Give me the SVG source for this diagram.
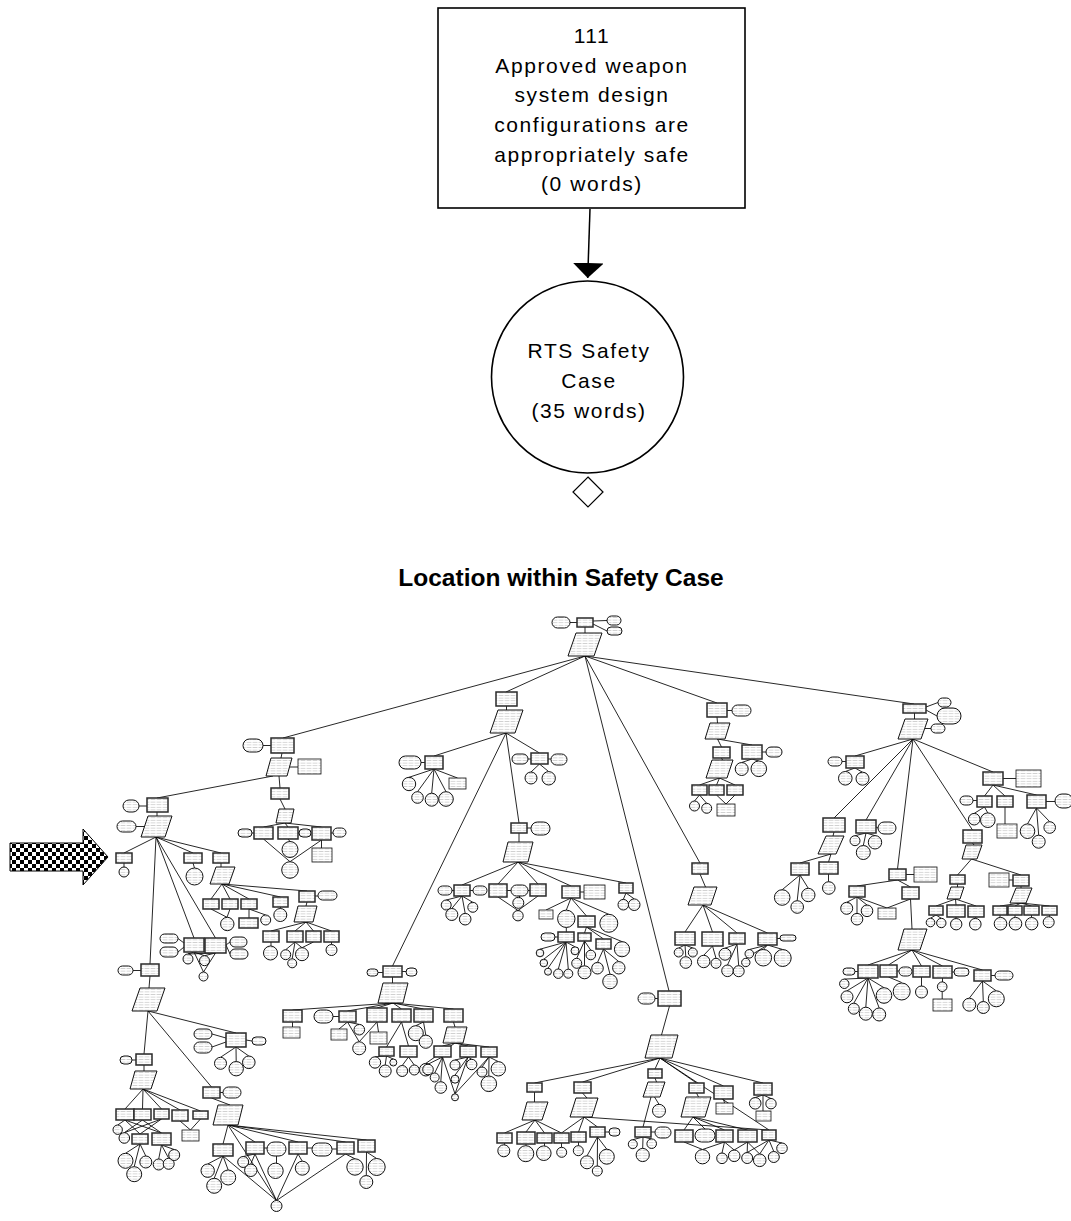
<svg xmlns="http://www.w3.org/2000/svg" width="1071" height="1221" viewBox="0 0 1071 1221">
<defs>
<style>
.t{font-family:"Liberation Sans",Arial,sans-serif;font-size:21px;letter-spacing:1.6px;text-anchor:middle;fill:#000}
.h{font-family:"Liberation Sans",Arial,sans-serif;font-size:24.5px;font-weight:bold;text-anchor:middle;fill:#000}
.main{fill:#fff;stroke:#000;stroke-width:1.6}
.g,.c,.e,.s,.b{fill:url(#tx);stroke:#111;stroke-width:1}
.g{stroke:#2a2a2a;stroke-width:1.5}
.b{stroke-width:0.8}
.l{fill:none;stroke:#000;stroke-width:0.85}
</style>
<pattern id="tx" width="6" height="2.6" patternUnits="userSpaceOnUse"><rect width="6" height="2.6" fill="#fff"/><rect x="0.6" y="1" width="4.8" height="0.7" fill="#c6c6c6"/></pattern>
<pattern id="chk" width="8" height="8" patternUnits="userSpaceOnUse"><rect width="8" height="8" fill="#fff"/><rect width="4" height="4" fill="#000"/><rect x="4" y="4" width="4" height="4" fill="#000"/></pattern>
<marker id="ah" viewBox="0 0 15 31" markerWidth="15" markerHeight="31" refX="15" refY="15.5" orient="auto" markerUnits="userSpaceOnUse"><path d="M0,0 L15,15.5 L0,31 Z" fill="#000"/></marker>
</defs>
<rect width="1071" height="1221" fill="#fff"/>

<!-- focus goal and its parent -->
<g id="edges">
<path class="l" style="stroke-width:1.5" d="M590,209 L587.7,278" marker-end="url(#ah)"/>
</g>
<g id="goal-111">
<rect class="main" x="438" y="8" width="307" height="200"/>
<text class="t" x="592" y="43">111</text>
<text class="t" x="592" y="73">Approved weapon</text>
<text class="t" x="592" y="102">system design</text>
<text class="t" x="592" y="132">configurations are</text>
<text class="t" x="592" y="162">appropriately safe</text>
<text class="t" x="592" y="191">(0 words)</text>
</g>
<g id="rts-safety-case">
<circle class="main" cx="587.5" cy="377" r="96"/>
<text class="t" x="589" y="358">RTS Safety</text>
<text class="t" x="589" y="388">Case</text>
<text class="t" x="589" y="418">(35 words)</text>
</g>
<g id="undeveloped">
<polygon class="main" style="stroke-width:1.2" points="588,477 603,492 588,507 573,492"/>
</g>

<text class="h" x="561" y="586">Location within Safety Case</text>

<!-- position pointer -->
<polygon points="10,843 83,843 83,829 108,857 83,885 83,871 10,871" fill="url(#chk)" stroke="#000" stroke-width="1"/>

<!-- overview of the whole argument tree -->
<g id="overview-links" class="l">
<path d="M585,656 L283,738 M585,656 L506,692 M585,656 L669,991 M585,656 L700,863 M585,656 L717,703 M585,656 L914,704 M570,622.5 H577 M593,621 L607,620.5 M593,624 L607,631 M585,627 V633"/>
<path d="M263,745.5 H271 M282,753 L281,758 M289,767 H298 M279,776 L280,788 M273,776 L157,798 M139,806 H147 M157,812 L157,816 M136,826.5 H144 M280,799 L285,809 M285,823 L263.5,827 M285,823 L288,827 M285,823 L321.5,827 M252,833 H254 M298,833 H299 M331,833 H333 M263.5,839 L290,861.7 M288,839 L290,841.5 M321.5,840 L290,861.7 M321.5,840 V848"/>
<path d="M156,837 L124,853 M156,837 L193,853 M156,837 L221,853 M156,837 L150,964 M156,837 L194,938 M156,837 L215.5,938 M124,863 V867 M193,863 L194.5,868 M221,863 V867 M222,884 L211,899 M222,884 L230,899 M222,884 L249,899 M222,884 L280.5,897 M222,884 L307,891 M315,896 H318 M211,909 L227,917.3 M230,909 L227,917.3 M249,909 V918 M249,909 L265.7,915 M280.5,907 V908.5 M307,902 L306,906 M306,922 L271,931 M306,922 L295,931 M306,922 L313.5,931 M306,922 L331.5,931 M271,942 V946 M295,942 L285.7,949.7 M295,942 L302,947.7 M295,942 L292.2,958.8 M313.5,942 L302,947.7 M331.5,942 V944.5"/>
<path d="M133,970.5 H141 M150,976 L149,988 M178,938.5 L184,943 M178,952 L184,947 M226,945 L230,942 M226,945 L230,954 M194,952 L188,954 M194,952 L204.5,955.7 M215.5,953 L188,954 M215.5,953 L204.5,955.7 M194,952 L203.5,972 M215.5,953 L203.5,972 M148,1011 L144,1054 M148,1011 L211.5,1087 M148,1011 L236,1033"/>
<path d="M132,1060 H136 M144,1065 V1071 M143,1089 L125,1109 M143,1089 L142.5,1109 M143,1089 L161.5,1109 M143,1089 L180,1110 M143,1089 L200.5,1111 M125,1120 L117.7,1125 M125,1120 L140,1134 M125,1120 L161.5,1133 M142.5,1120 L124.3,1132.7 M142.5,1120 L161.5,1133 M161.5,1119 L124.3,1132.7 M161.5,1119 L140,1134 M180,1121 L190.5,1130 M200.5,1119 L190.5,1130 M140,1144 L125.5,1153.3 M140,1144 L134.2,1166.7 M140,1144 L145.8,1156 M161.5,1145 L158.7,1159 M161.5,1145 L168.7,1158.3 M161.5,1145 L174.2,1149.5"/>
<path d="M220,1092.5 H223 M211.5,1098 L230,1105 M228,1125 L223,1144 M228,1125 L255,1142 M228,1125 L298,1142 M228,1125 L345.5,1142 M228,1125 L366.5,1140 M228,1125 L276.5,1200.5 M264,1148 H267 M307,1148 H312 M332,1149 H337 M223,1156 L207.7,1164 M223,1156 L214.2,1178.3 M223,1156 L228.2,1170 M223,1156 L276.5,1200.5 M255,1154 L243.2,1156.5 M255,1154 L250.8,1164 M255,1154 L276.5,1200.5 M276.5,1156 V1163 M298,1154 L302.3,1161.2 M298,1154 L276.5,1200.5 M345.5,1154 L355,1158.8 M345.5,1154 L276.5,1200.5 M366.5,1152 L376.7,1158.5 M366.5,1152 L366.3,1175.5 M212,1034 L226,1038 M212,1047 L226,1042 M246,1040 L252,1041 M236,1047 L220.5,1057.3 M236,1047 L236.2,1061.5 M236,1047 L248.8,1056"/>
<path d="M506.5,706 V710 M506,733 L434,756 M506,733 L539.5,753 M506,733 L392.5,966 M506,733 L519,823 M421,762.5 H425 M434,769 L409,777.3 M434,769 L417.5,791.7 M434,769 L431.7,793.2 M434,769 L446,791.7 M434,769 L457.5,778 M528,759 H531 M548,759 H551 M539.5,764 L531,772 M539.5,764 L548.7,771.6"/>
<path d="M378,972.5 H383 M402,971.5 H406 M392.5,977 V983 M393,1003 L292.5,1010 M393,1003 L347.5,1011 M393,1003 L377,1008 M393,1003 L401.5,1009 M393,1003 L423.5,1009 M393,1003 L453.5,1009 M333,1016.5 H339 M292.5,1022 V1027 M347.5,1022 L339,1029 M347.5,1022 L359.3,1024.4 M347.5,1022 L359.2,1041.8 M377,1022 L359.2,1041.8 M377,1022 L378.5,1032 M401.5,1022 L386.5,1047 M401.5,1022 L408.5,1046 M386.5,1056 L375,1056.8 M386.5,1056 L385.2,1065 M386.5,1056 L393.3,1059 M408.5,1057 L402.2,1065.5 M408.5,1057 L414.3,1065 M423.5,1022 L415.8,1025.7 M423.5,1022 L425.8,1035.1 M453.5,1022 L455,1027 M455,1043 L442.5,1046 M455,1043 L468,1046 M455,1043 L489,1047 M455,1043 L425.8,1063.4 M442.5,1057 L428,1064.2 M442.5,1057 L434.7,1073 M442.5,1057 L440.8,1081.7 M442.5,1057 L455,1093.8 M468,1057 L455,1060 M468,1057 L455,1075.2 M468,1057 L455,1093.8 M468,1057 L471.7,1059.3 M489,1057 L482,1067 M489,1057 L488.8,1076 M489,1057 L498.3,1061.6 M489,1057 L455,1093.8"/>
<path d="M527,828 H531 M519,833 V842 M518,862 L462,885 M518,862 L498,884 M518,862 L538,884 M518,862 L571,886 M518,862 L626,883 M452,890.5 H454 M470,890.5 H473 M462,896 L446.2,900 M462,896 L451.8,908.5 M462,896 L465.2,913.4 M462,896 L472.8,902.3 M507,890.5 H511 M528,890.5 H530 M519.5,896 V897.3 M498,897 L518,910.5 M538,896 L518,910.5 M580,892 H584 M571,898 L546,910 M571,898 L566.3,910.1 M571,898 L586.5,916 M571,898 L608.8,914.3 M626,893 L623.3,899.4 M626,893 L634.2,898.9 M566.3,927.5 V932 M555,937 H558 M586.5,927 L584.5,933 M586.5,927 L603.5,939 M586.5,927 L622,941.6 M566,942 L540,949.2 M566,942 L543.8,959.2 M566,942 L548,968.2 M566,942 L558.3,969 M566,942 L568.3,969.2 M566,942 L575,946.8 M584.5,941 L576.7,958.3 M584.5,941 L584.5,965.8 M584.5,941 L590.8,950.2 M603.5,949 L597.5,962.4 M603.5,949 L610,974.2 M603.5,949 L618.8,961.6"/>
<path d="M655,998.5 H658 M669.5,1006 L661.5,1035 M660,1058 L534.5,1083 M660,1058 L582.5,1082 M660,1058 L655,1069 M660,1058 L696.5,1083 M660,1058 L723.5,1086 M660,1058 L763,1083 M660,1058 L769,1130 M534.5,1092 L534.5,1102 M535,1120 L504.5,1133 M535,1120 L526,1132 M535,1120 L544.5,1133 M535,1120 L561.5,1133 M504.5,1143 V1144.8 M526,1144 V1145.7 M544.5,1143 V1145.9 M561.5,1143 V1147.3 M582.5,1093 L587,1098 M584,1117 L561.5,1133 M584,1117 L578.5,1132 M584,1117 L597.5,1127 M584,1117 L769,1130 M578.5,1142 V1145.7 M605,1132 H609 M597.5,1137 L587,1155.8 M597.5,1137 L597.3,1166 M597.5,1137 L606.8,1149.2 M655,1078 L656.5,1082 M654.5,1097 L659,1104.3 M651,1097 L643,1127 M651,1132 H655 M643,1137 L632.8,1139.7 M643,1137 L642.7,1148.4 M643,1137 L651.7,1138.9 M696.5,1093 L698.5,1097 M693,1117 L684,1130 M693,1117 L705,1129 M693,1117 L724.5,1130 M693,1117 L747.5,1130 M684,1142 L702.5,1149.5 M724.5,1142 L702.5,1149.5 M724.5,1142 L722,1153 M724.5,1142 L734.2,1150 M747.5,1142 L734.2,1150 M747.5,1142 L747.2,1152.5 M723.5,1099 L724.5,1103 M763,1095 L755.2,1097.5 M763,1095 L771,1098.5 M763,1095 V1111 M769,1140 L747.2,1152.5 M769,1140 L759.7,1154 M769,1140 L773.8,1151.5 M769,1140 L782,1143 M747.5,1142 L759.7,1154"/>
<path d="M700,874 L705.5,887 M703,905 L685,932 M703,905 L712.5,932 M703,905 L737,933 M703,905 L767.5,933 M685,945 L678.7,948 M685,945 L685.8,956.7 M685,945 L692.8,948 M712.5,946 L703.7,955.3 M712.5,946 L716,958.3 M737,944 L725,948.2 M737,944 L727.5,965 M737,944 L738.7,965.7 M777,938.5 H780 M767.5,945 L763.3,949.4 M767.5,945 L782.7,949.5 M767.5,945 L749.3,949.5 M767.5,945 L745.8,958.3"/>
<path d="M727,710.5 H732 M717,717 L717.5,723 M717.5,739 L721.5,747 M717.5,739 L752,745 M762,752 H766 M752,759 L741.7,762.5 M752,759 L758.8,761 M721.5,758 L722.5,760 M719.5,778 L699.5,785 M719.5,778 L716.5,785 M719.5,778 L735,785 M699.5,795 L694.5,801 M699.5,795 L706.7,803.3 M716.5,795 L726,804 M735,795 L726,804"/>
<path d="M926,707 L938,702.5 M926,710 L937,716 M914.5,713 L914.5,719 M925,728.5 H931 M913,739 L855,756 M913,739 L834,818 M913,739 L866,820 M913,739 L897.5,869 M913,739 L972.5,830 M913,739 L993,772 M842,761.5 H846 M855,768 L845.3,771.5 M855,768 L862.5,772.2 M834,832 L833,836 M831,854 L800,863 M831,854 L828.5,862 M800,875 L782.2,889.7 M800,875 L797.2,900.7 M800,875 L808.3,888.3 M828.5,874 V881.7 M876,827 L878,828 M866,833 L855,835.7 M866,833 L863.3,845.5 M866,833 L875,835.6"/>
<path d="M906,874.5 H914 M897.5,880 L857,886 M897.5,880 L910.5,887 M857,897 L846.7,902.3 M857,897 L857,913.4 M857,897 L867,905 M857,897 L887,908 M910.5,899 L887,908 M910.5,899 L912,929 M912,950 L868,965 M912,950 L888.5,965 M912,950 L921.5,966 M912,950 L942.5,966 M912,950 L982.5,970 M855,971.5 H858 M897,971 H899 M952,972 H954 M991,975.5 H995 M868,978 L844.3,979.1 M868,978 L847,990.8 M868,978 L853.8,1003.2 M868,978 L865.8,1007.2 M868,978 L879.2,1008 M868,978 L884,987.7 M888.5,977 L901.7,982.5 M921.5,977 V986 M942.5,978 V982 M942.2,991.5 V999 M982.5,981 L969.3,998.2 M982.5,981 L983.3,1001.5 M982.5,981 L996.2,990.8"/>
<path d="M972.5,843 L974,845 M971.5,859 L957.5,875 M971.5,859 L1021,875 M1013,880 H1009 M957.5,884 V887 M955.5,899 L936,906 M955.5,899 L956,905 M955.5,899 L976,906 M936,915 L930.5,918.2 M936,915 L941.3,918.3 M956,917 V918.5 M976,917 L975.3,918.4 M1021,886 V888 M1021,903 L1000,906 M1021,903 L1015,906 M1021,903 L1031.5,906 M1021,903 L1049.5,906 M1000,915 V917.4 M1015,915 V917.4 M1031.5,915 V917.5 M1049.5,915 V916.7 M1003,778.5 H1016 M993,785 L984.5,796 M993,785 L1005,796 M993,785 L1036.5,795 M973,800.5 H977 M1046,801.5 H1055 M984.5,807 L974.2,813.4 M984.5,807 L987.8,812.9 M1005,807 V824 M1036.5,808 L1027.5,823.9 M1036.5,808 L1038.7,835.2 M1036.5,808 L1049.7,821.7"/>
</g>

<g id="ov-root">
<rect class="c" x="552" y="617" width="18" height="11" rx="5.5"/>
<rect class="g" x="577" y="618" width="16" height="9"/>
<rect class="c" x="607" y="616" width="14" height="9" rx="4.5"/>
<rect class="c" x="607" y="627" width="15" height="8" rx="4"/>
<polygon class="s" points="576,633 602,633 594,656 568,656"/>
</g>

<g id="ov-branch-a">
<rect class="c" x="243" y="739" width="20" height="13" rx="6.5"/>
<rect class="g" x="271" y="738" width="23" height="15"/>
<polygon class="s" points="271,758 292,758 287,776 266,776"/>
<rect class="b" x="298" y="759" width="23" height="15"/>
<rect class="g" x="271" y="788" width="18" height="11"/>
<polygon class="s" points="279,809 294,809 291,823 276,823"/>
<rect class="g" x="254" y="827" width="19" height="12"/><rect class="c" x="238" y="829" width="14" height="8" rx="4"/>
<rect class="g" x="278" y="827" width="20" height="12"/><rect class="c" x="299" y="829" width="12" height="8" rx="4"/>
<rect class="g" x="312" y="827" width="19" height="13"/><rect class="c" x="333" y="828" width="13" height="9" rx="4.5"/>
<circle class="e" cx="290" cy="849.5" r="8"/><circle class="e" cx="290" cy="870" r="8.3"/>
<rect class="b" x="312" y="848" width="20" height="14"/>
<rect class="g" x="147" y="798" width="21" height="14"/><rect class="c" x="123" y="800" width="16" height="12" rx="6"/>
<polygon class="s" points="148,816 172,816 165,837 141,837"/><rect class="c" x="117" y="821" width="19" height="11" rx="5.5"/>
<rect class="g" x="116" y="853" width="16" height="10"/><circle class="e" cx="124" cy="872" r="5"/>
<rect class="g" x="184" y="853" width="18" height="10"/><circle class="e" cx="194.5" cy="876.5" r="8.5"/>
<rect class="g" x="213" y="853" width="16" height="10"/><polygon class="s" points="216,867 235,867 229,884 210,884"/>
<rect class="g" x="203" y="899" width="16" height="10"/><rect class="g" x="222" y="899" width="16" height="10"/><rect class="g" x="241" y="899" width="16" height="10"/>
<rect class="g" x="273" y="897" width="15" height="10"/><rect class="g" x="299" y="891" width="16" height="11"/><rect class="c" x="318" y="891" width="19" height="9" rx="4.5"/>
<circle class="e" cx="227.3" cy="924" r="6.7"/><rect class="g" x="239" y="918" width="19" height="10"/><circle class="e" cx="265.7" cy="920" r="5"/><circle class="e" cx="280.3" cy="915" r="6.5"/>
<polygon class="s" points="298,906 317,906 313,922 294,922"/>
<rect class="g" x="263" y="931" width="16" height="11"/><rect class="g" x="287" y="931" width="16" height="11"/><rect class="g" x="306" y="931" width="15" height="11"/><rect class="g" x="324" y="931" width="15" height="11"/>
<circle class="e" cx="270.5" cy="953" r="7"/><circle class="e" cx="285.7" cy="954.7" r="5"/><circle class="e" cx="302" cy="954.2" r="6.5"/><circle class="e" cx="292.2" cy="963.3" r="4.5"/><circle class="e" cx="331.5" cy="950" r="5.5"/>
<rect class="g" x="141" y="964" width="18" height="12"/><rect class="c" x="118" y="966" width="15" height="9" rx="4.5"/>
<rect class="g" x="184" y="938" width="20" height="14"/><rect class="g" x="205" y="938" width="21" height="15"/>
<rect class="c" x="160" y="934" width="18" height="9" rx="4.5"/><rect class="c" x="160" y="947" width="18" height="10" rx="5"/><rect class="c" x="230" y="937" width="17" height="10" rx="5"/><rect class="c" x="230" y="949" width="18" height="10" rx="5"/>
<circle class="e" cx="188" cy="959" r="5"/><circle class="e" cx="204.5" cy="960.7" r="5"/><circle class="e" cx="203.5" cy="976.5" r="4.5"/>
<polygon class="s" points="140,988 165,988 157,1011 132,1011"/>
<rect class="g" x="136" y="1054" width="16" height="11"/><rect class="c" x="120" y="1056" width="12" height="8" rx="4"/>
<polygon class="s" points="135,1071 157,1071 151,1089 130,1089"/>
<rect class="g" x="116" y="1109" width="18" height="11"/><rect class="g" x="134" y="1109" width="17" height="11"/><rect class="g" x="154" y="1109" width="15" height="10"/><rect class="g" x="172" y="1110" width="16" height="11"/><rect class="g" x="193" y="1111" width="15" height="8"/>
<circle class="e" cx="117.7" cy="1129.7" r="4.7"/><circle class="e" cx="124.3" cy="1138" r="5.3"/>
<rect class="g" x="132" y="1134" width="16" height="10"/><rect class="g" x="152" y="1133" width="19" height="12"/><rect class="b" x="182" y="1130" width="17" height="11"/>
<circle class="e" cx="125.5" cy="1160.8" r="7.5"/><circle class="e" cx="134.2" cy="1174.2" r="7.5"/><circle class="e" cx="145.8" cy="1162" r="6"/><circle class="e" cx="158.7" cy="1164.5" r="5.5"/><circle class="e" cx="168.7" cy="1163.8" r="5.5"/><circle class="e" cx="174.2" cy="1155" r="5.5"/>
<rect class="g" x="203" y="1087" width="17" height="11"/><rect class="c" x="223" y="1087" width="18" height="11" rx="5.5"/>
<polygon class="s" points="218,1105 243,1105 238,1125 213,1125"/>
<rect class="g" x="213" y="1144" width="20" height="12"/><rect class="g" x="246" y="1142" width="18" height="12"/><rect class="c" x="267" y="1142" width="19" height="14" rx="7"/><rect class="g" x="289" y="1142" width="18" height="12"/><rect class="c" x="312" y="1143" width="20" height="13" rx="6.5"/><rect class="g" x="337" y="1142" width="17" height="12"/><rect class="g" x="358" y="1140" width="17" height="12"/>
<circle class="e" cx="207.7" cy="1170.7" r="6.7"/><circle class="e" cx="214.2" cy="1185.8" r="7.5"/><circle class="e" cx="228.2" cy="1177.5" r="7.5"/><circle class="e" cx="243.2" cy="1162" r="5.5"/><circle class="e" cx="250.8" cy="1170.3" r="6.2"/><circle class="e" cx="275.5" cy="1170.8" r="7.7"/><circle class="e" cx="302.3" cy="1168.2" r="7"/><circle class="e" cx="355" cy="1167" r="8.2"/><circle class="e" cx="376.7" cy="1167" r="8.5"/><circle class="e" cx="366.3" cy="1182" r="6.5"/><circle class="e" cx="276.5" cy="1206" r="5.5"/>
<rect class="g" x="226" y="1033" width="20" height="14"/><rect class="c" x="194" y="1029" width="18" height="10" rx="5"/><rect class="c" x="194" y="1042" width="18" height="11" rx="5.5"/><rect class="c" x="252" y="1037" width="14" height="8" rx="4"/>
<circle class="e" cx="220.5" cy="1063.3" r="6"/><circle class="e" cx="236.2" cy="1068.7" r="7.2"/><circle class="e" cx="248.8" cy="1062.3" r="6.3"/>
</g>

<g id="ov-branch-b">
<rect class="g" x="496" y="692" width="21" height="14"/><polygon class="s" points="498,710 523,710 515,733 490,733"/>
<rect class="g" x="425" y="756" width="18" height="13"/><rect class="c" x="399" y="756" width="22" height="13" rx="6.5"/>
<circle class="e" cx="409" cy="784" r="6.7"/><circle class="e" cx="417.5" cy="797.5" r="5.8"/><circle class="e" cx="431.7" cy="799.7" r="6.5"/><circle class="e" cx="446" cy="799" r="7.3"/><rect class="b" x="449" y="778" width="17" height="11"/>
<rect class="g" x="531" y="753" width="17" height="11"/><rect class="c" x="512" y="754" width="16" height="10" rx="5"/><rect class="c" x="551" y="754" width="16" height="11" rx="5.5"/>
<circle class="e" cx="531" cy="778" r="6"/><circle class="e" cx="548.7" cy="778.3" r="6.7"/>
<rect class="g" x="383" y="966" width="19" height="11"/><rect class="c" x="367" y="969" width="11" height="7" rx="3.5"/><rect class="c" x="406" y="968" width="11" height="8" rx="4"/>
<polygon class="s" points="383,983 408,983 403,1003 378,1003"/>
<rect class="g" x="283" y="1010" width="19" height="12"/><rect class="b" x="283" y="1027" width="17" height="11"/><rect class="c" x="314" y="1010" width="19" height="13" rx="6.5"/><rect class="g" x="339" y="1011" width="17" height="11"/><rect class="g" x="367" y="1008" width="20" height="14"/><rect class="g" x="392" y="1009" width="19" height="13"/><rect class="g" x="414" y="1009" width="19" height="13"/><rect class="g" x="444" y="1009" width="19" height="13"/>
<rect class="b" x="331" y="1029" width="16" height="11"/><circle class="e" cx="359.3" cy="1029.7" r="5.3"/><rect class="b" x="370" y="1032" width="17" height="12"/><circle class="e" cx="359.2" cy="1048.3" r="6.5"/>
<rect class="g" x="379" y="1047" width="15" height="9"/><rect class="g" x="400" y="1046" width="17" height="11"/>
<circle class="e" cx="375" cy="1062.5" r="5.7"/><circle class="e" cx="385.2" cy="1071" r="6"/><circle class="e" cx="393.3" cy="1062.5" r="3.5"/><circle class="e" cx="402.2" cy="1071" r="5.5"/><circle class="e" cx="414.3" cy="1070" r="5"/><circle class="e" cx="415.8" cy="1033.2" r="7.5"/><circle class="e" cx="425.8" cy="1041.7" r="6.6"/><circle class="e" cx="425.8" cy="1069.7" r="6.3"/>
<polygon class="s" points="447,1027 467,1027 463,1043 443,1043"/>
<rect class="g" x="434" y="1046" width="17" height="11"/><rect class="g" x="460" y="1046" width="16" height="11"/><rect class="g" x="481" y="1047" width="16" height="10"/>
<circle class="e" cx="428" cy="1069.5" r="5.3"/><circle class="e" cx="434.7" cy="1077.5" r="4.5"/><circle class="e" cx="440.8" cy="1087.5" r="5.8"/><circle class="e" cx="455" cy="1065" r="5"/><circle class="e" cx="455" cy="1079.2" r="4"/><circle class="e" cx="455" cy="1097.3" r="3.5"/><circle class="e" cx="471.7" cy="1064.5" r="5.2"/><circle class="e" cx="482" cy="1072" r="5"/><circle class="e" cx="488.8" cy="1083.8" r="7.8"/><circle class="e" cx="498.3" cy="1068.8" r="7.2"/>
<rect class="g" x="511" y="823" width="16" height="10"/><rect class="c" x="531" y="822" width="19" height="13" rx="6.5"/>
<polygon class="s" points="508,842 533,842 528,862 503,862"/>
<rect class="g" x="454" y="885" width="16" height="11"/><rect class="c" x="438" y="886" width="14" height="9" rx="4.5"/><rect class="c" x="473" y="886" width="14" height="9" rx="4.5"/>
<circle class="e" cx="446.2" cy="905" r="5"/><circle class="e" cx="451.8" cy="914.5" r="6"/><circle class="e" cx="465.2" cy="919.2" r="5.8"/><circle class="e" cx="472.8" cy="907.3" r="5"/>
<rect class="g" x="489" y="884" width="18" height="13"/><rect class="c" x="511" y="885" width="17" height="11" rx="5.5"/><rect class="g" x="530" y="884" width="16" height="12"/>
<circle class="e" cx="518.3" cy="902.8" r="5.5"/><circle class="e" cx="518" cy="915.7" r="5.2"/>
<rect class="g" x="562" y="886" width="18" height="12"/><rect class="b" x="584" y="885" width="21" height="14"/>
<rect class="g" x="619" y="883" width="14" height="10"/><circle class="e" cx="623.3" cy="904.7" r="5.3"/><circle class="e" cx="634.2" cy="904.7" r="5.8"/>
<rect class="b" x="539" y="910" width="14" height="9"/><circle class="e" cx="566.3" cy="918.8" r="8.7"/><rect class="g" x="578" y="916" width="17" height="11"/><circle class="e" cx="608.8" cy="923.3" r="9"/>
<rect class="c" x="541" y="933" width="14" height="8" rx="4"/><rect class="g" x="558" y="932" width="16" height="10"/><rect class="g" x="578" y="933" width="13" height="8"/><rect class="g" x="596" y="939" width="15" height="10"/><circle class="e" cx="622" cy="949.2" r="7.6"/>
<circle class="e" cx="540" cy="953" r="3.8"/><circle class="e" cx="543.8" cy="963" r="3.8"/><circle class="e" cx="548" cy="971.7" r="3.5"/><circle class="e" cx="558.3" cy="973.7" r="4.7"/><circle class="e" cx="568.3" cy="973.7" r="4.5"/><circle class="e" cx="575" cy="950.8" r="4"/><circle class="e" cx="576.7" cy="963.3" r="5"/><circle class="e" cx="584.5" cy="972.3" r="6.5"/><circle class="e" cx="590.8" cy="955" r="4.8"/><circle class="e" cx="597.5" cy="968.2" r="5.8"/><circle class="e" cx="610" cy="981.5" r="7.3"/><circle class="e" cx="618.8" cy="967.8" r="6.2"/>
</g>

<g id="ov-branch-c">
<rect class="g" x="658" y="991" width="23" height="15"/><rect class="c" x="638" y="993" width="17" height="11" rx="5.5"/>
<polygon class="s" points="651,1035 678,1035 672,1058 645,1058"/>
<rect class="g" x="527" y="1083" width="15" height="9"/><polygon class="s" points="527,1102 548,1102 542,1120 522,1120"/>
<rect class="g" x="497" y="1133" width="15" height="10"/><circle class="e" cx="503.8" cy="1150.8" r="6"/><rect class="g" x="517" y="1132" width="18" height="12"/><circle class="e" cx="525.8" cy="1153.7" r="8"/><rect class="g" x="537" y="1133" width="15" height="10"/><circle class="e" cx="543.8" cy="1153.2" r="7.3"/><rect class="g" x="554" y="1133" width="15" height="10"/><circle class="e" cx="561.7" cy="1152.3" r="5"/>
<rect class="g" x="574" y="1082" width="17" height="11"/><polygon class="s" points="576,1098 598,1098 592,1117 570,1117"/>
<rect class="g" x="571" y="1132" width="15" height="10"/><circle class="e" cx="578.3" cy="1150.7" r="5"/><rect class="g" x="590" y="1127" width="15" height="10"/><rect class="c" x="609" y="1128" width="11" height="8" rx="4"/>
<circle class="e" cx="587" cy="1162.3" r="6.5"/><circle class="e" cx="597.3" cy="1171" r="5"/><circle class="e" cx="606.8" cy="1156.7" r="7.5"/>
<rect class="g" x="648" y="1069" width="14" height="9"/><polygon class="s" points="648,1082 665,1082 660,1097 643,1097"/>
<circle class="e" cx="659" cy="1110.8" r="6.5"/><rect class="g" x="635" y="1127" width="16" height="10"/><rect class="c" x="655" y="1127" width="16" height="11" rx="5.5"/>
<circle class="e" cx="632.8" cy="1144.2" r="4.5"/><circle class="e" cx="642.7" cy="1155" r="6.6"/><circle class="e" cx="651.7" cy="1143.7" r="4.8"/>
<rect class="g" x="689" y="1083" width="15" height="10"/><polygon class="s" points="686,1097 711,1097 705,1117 681,1117"/>
<rect class="g" x="675" y="1130" width="18" height="12"/><rect class="c" x="695" y="1129" width="20" height="13" rx="6.5"/><rect class="g" x="716" y="1130" width="17" height="12"/><rect class="g" x="738" y="1130" width="19" height="12"/>
<circle class="e" cx="702.5" cy="1156.7" r="7.2"/><circle class="e" cx="722" cy="1158.3" r="5.3"/><circle class="e" cx="734.2" cy="1155.8" r="5.8"/><circle class="e" cx="747.2" cy="1158" r="5.5"/>
<circle class="e" cx="759.7" cy="1160.3" r="6.3"/><circle class="e" cx="773.8" cy="1157" r="5.5"/><circle class="e" cx="782" cy="1148.3" r="5.3"/>
<rect class="g" x="762" y="1130" width="14" height="10"/>
<rect class="g" x="714" y="1086" width="19" height="13"/><rect class="b" x="716" y="1103" width="17" height="11"/>
<rect class="g" x="754" y="1083" width="18" height="12"/><circle class="e" cx="755.2" cy="1103.3" r="5.8"/><circle class="e" cx="771" cy="1103.7" r="5.2"/><rect class="b" x="756" y="1111" width="15" height="10"/>
</g>

<g id="ov-branch-d">
<rect class="g" x="692" y="863" width="16" height="11"/><polygon class="s" points="694,887 717,887 711,905 688,905"/>
<rect class="g" x="675" y="932" width="20" height="13"/><circle class="e" cx="678.7" cy="952.5" r="4.5"/><circle class="e" cx="685.8" cy="962.5" r="5.8"/><circle class="e" cx="692.8" cy="952.5" r="4.5"/>
<rect class="g" x="702" y="932" width="21" height="14"/><circle class="e" cx="703.7" cy="961.5" r="6.2"/><circle class="e" cx="716" cy="963.3" r="5"/>
<rect class="g" x="729" y="933" width="16" height="11"/><circle class="e" cx="725" cy="954.2" r="6"/><circle class="e" cx="727.5" cy="970.8" r="5.8"/><circle class="e" cx="738.7" cy="971.2" r="5.5"/>
<rect class="g" x="758" y="933" width="19" height="12"/><rect class="c" x="780" y="935" width="16" height="6" rx="3"/><circle class="e" cx="763.3" cy="957.7" r="8.3"/><circle class="e" cx="782.7" cy="958" r="8.5"/><circle class="e" cx="749.3" cy="953.8" r="4.3"/><circle class="e" cx="745.8" cy="962.5" r="4.2"/>
</g>

<g id="ov-branch-e">
<rect class="g" x="707" y="703" width="20" height="14"/><rect class="c" x="732" y="705" width="19" height="11" rx="5.5"/>
<polygon class="s" points="710,723 730,723 725,739 705,739"/>
<rect class="g" x="713" y="747" width="17" height="11"/><rect class="g" x="742" y="745" width="20" height="14"/><rect class="c" x="766" y="747" width="16" height="10" rx="5"/>
<circle class="e" cx="741.7" cy="769" r="6.5"/><circle class="e" cx="758.8" cy="768.8" r="7.8"/>
<polygon class="s" points="712,760 733,760 727,778 706,778"/>
<rect class="g" x="692" y="785" width="15" height="10"/><rect class="g" x="709" y="785" width="15" height="10"/><rect class="g" x="727" y="785" width="16" height="10"/>
<circle class="e" cx="694.5" cy="806" r="5"/><circle class="e" cx="706.7" cy="808.3" r="5"/><rect class="b" x="717" y="804" width="18" height="12"/>
</g>

<g id="ov-branch-f">
<rect class="g" x="903" y="704" width="23" height="9"/><rect class="c" x="938" y="698" width="13" height="9" rx="4.5"/><rect class="c" x="937" y="708" width="24" height="16" rx="8"/>
<polygon class="s" points="905,719 928,719 921,739 898,739"/><rect class="c" x="931" y="724" width="14" height="9" rx="4.5"/>
<rect class="g" x="846" y="756" width="18" height="12"/><rect class="c" x="828" y="757" width="14" height="9" rx="4.5"/><circle class="e" cx="845.3" cy="778.3" r="6.8"/><circle class="e" cx="862.5" cy="778.7" r="6.5"/>
<rect class="g" x="823" y="818" width="22" height="14"/><polygon class="s" points="826,836 844,836 836,854 818,854"/>
<rect class="g" x="791" y="863" width="18" height="12"/><rect class="g" x="819" y="862" width="19" height="12"/>
<circle class="e" cx="782.2" cy="897.5" r="7.8"/><circle class="e" cx="797.2" cy="907" r="6.3"/><circle class="e" cx="808.3" cy="895" r="6.7"/><circle class="e" cx="828.8" cy="888" r="6.3"/>
<rect class="g" x="856" y="820" width="20" height="13"/><rect class="c" x="878" y="822" width="18" height="12" rx="6"/>
<circle class="e" cx="855" cy="840.7" r="5"/><circle class="e" cx="863.3" cy="852.5" r="7"/><circle class="e" cx="875" cy="842.3" r="6.7"/>
<rect class="g" x="889" y="869" width="17" height="11"/><rect class="b" x="914" y="867" width="23" height="15"/>
<rect class="g" x="849" y="886" width="16" height="11"/><rect class="g" x="902" y="887" width="17" height="12"/>
<circle class="e" cx="846.7" cy="908.3" r="6"/><circle class="e" cx="857" cy="919.2" r="5.8"/><circle class="e" cx="867" cy="910.8" r="5.8"/><rect class="b" x="878" y="908" width="18" height="11"/>
<polygon class="s" points="904,929 927,929 920,950 898,950"/>
<rect class="g" x="858" y="965" width="20" height="13"/><rect class="c" x="843" y="968" width="12" height="7" rx="3.5"/><rect class="g" x="880" y="965" width="17" height="12"/><rect class="c" x="899" y="967" width="13" height="9" rx="4.5"/><rect class="g" x="913" y="966" width="17" height="11"/><rect class="g" x="933" y="966" width="19" height="12"/><rect class="c" x="954" y="968" width="15" height="8" rx="4"/><rect class="g" x="974" y="970" width="17" height="11"/><rect class="c" x="995" y="971" width="18" height="9" rx="4.5"/>
<circle class="e" cx="844.3" cy="983.8" r="4.7"/><circle class="e" cx="847" cy="996.8" r="6"/><circle class="e" cx="853.8" cy="1008.7" r="5.5"/><circle class="e" cx="865.8" cy="1013.7" r="6.5"/><circle class="e" cx="879.2" cy="1014.5" r="6.5"/><circle class="e" cx="884" cy="995.5" r="7.8"/><circle class="e" cx="901.7" cy="991.5" r="8.5"/><circle class="e" cx="921.5" cy="992" r="6"/><circle class="e" cx="942.2" cy="986.7" r="4.8"/>
<circle class="e" cx="969.3" cy="1004.7" r="6.5"/><circle class="e" cx="983.3" cy="1007.5" r="6"/><circle class="e" cx="996.3" cy="998.8" r="8"/>
<rect class="b" x="933" y="999" width="19" height="12"/>
<rect class="g" x="963" y="830" width="19" height="13"/><polygon class="s" points="966,845 982,845 977,859 962,859"/>
<rect class="g" x="950" y="875" width="15" height="9"/><polygon class="s" points="951,887 964,887 960,899 947,899"/>
<rect class="g" x="929" y="906" width="14" height="9"/><rect class="g" x="947" y="905" width="18" height="12"/><rect class="g" x="968" y="906" width="16" height="11"/>
<circle class="e" cx="930.5" cy="922.5" r="4.3"/><circle class="e" cx="941.3" cy="923" r="4.7"/><circle class="e" cx="956.2" cy="924.2" r="5.7"/><circle class="e" cx="975.3" cy="924.2" r="5.8"/>
<rect class="g" x="1013" y="875" width="16" height="11"/><rect class="b" x="989" y="873" width="20" height="14"/>
<polygon class="s" points="1016,888 1032,888 1026,903 1010,903"/>
<rect class="g" x="993" y="906" width="14" height="9"/><rect class="g" x="1008" y="906" width="14" height="9"/><rect class="g" x="1024" y="906" width="15" height="9"/><rect class="g" x="1042" y="906" width="15" height="9"/>
<circle class="e" cx="1000.5" cy="923.7" r="6.3"/><circle class="e" cx="1015.5" cy="923.7" r="6.3"/><circle class="e" cx="1031.7" cy="923.7" r="6.2"/><circle class="e" cx="1048.7" cy="922.2" r="5.5"/>
<rect class="g" x="983" y="772" width="20" height="13"/><rect class="b" x="1016" y="770" width="25" height="17"/>
<rect class="g" x="977" y="796" width="15" height="11"/><rect class="c" x="960" y="796" width="13" height="9" rx="4.5"/><rect class="g" x="997" y="796" width="16" height="11"/><rect class="g" x="1027" y="795" width="19" height="13"/><rect class="c" x="1055" y="794" width="18" height="14" rx="7"/>
<circle class="e" cx="974.2" cy="819.2" r="5.8"/><circle class="e" cx="987.8" cy="820.2" r="7.3"/><rect class="b" x="997" y="824" width="20" height="14"/><circle class="e" cx="1027.5" cy="831.2" r="7.3"/><circle class="e" cx="1038.7" cy="841.7" r="6.5"/><circle class="e" cx="1049.7" cy="827.5" r="5.8"/>
</g>
</svg>
